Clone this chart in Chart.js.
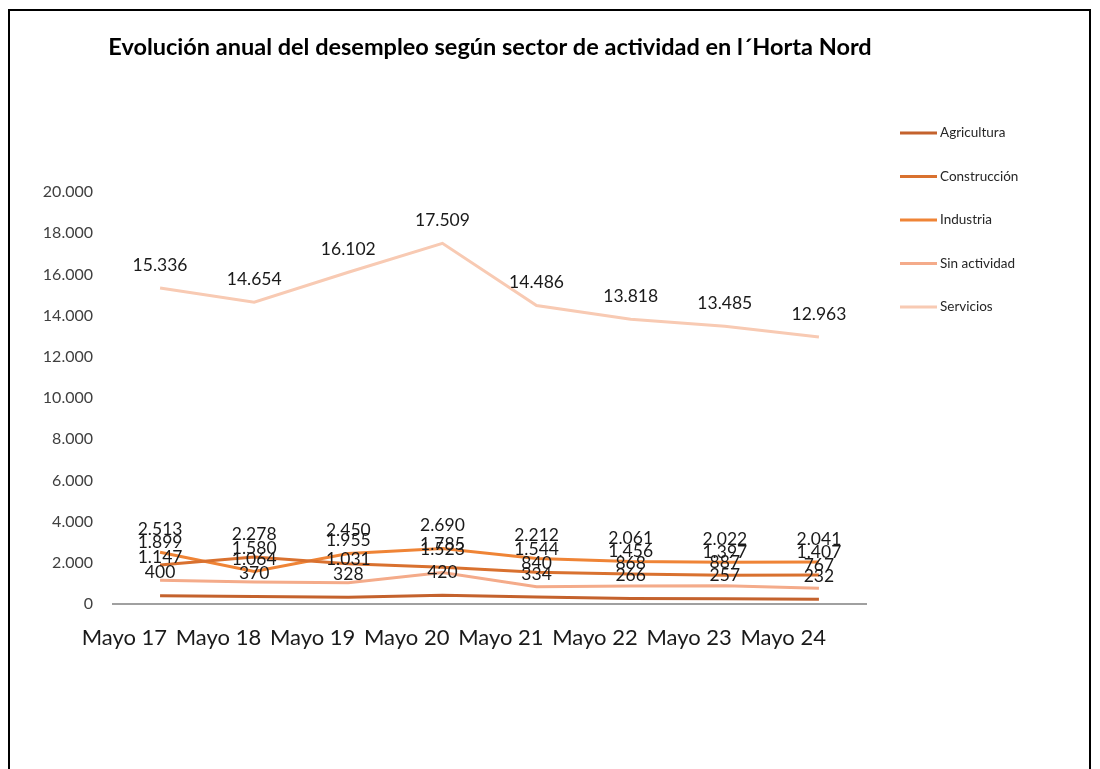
<!DOCTYPE html>
<html>
<head>
<meta charset="utf-8">
<script src="https://cdn.jsdelivr.net/npm/chart.js@4.4.1/dist/chart.umd.min.js"></script>
<style>
  html, body { margin: 0; padding: 0; background: #ffffff; }
  #wrap { position: relative; width: 1100px; height: 769px; }
</style>
</head>
<body>
<div id="wrap"><canvas id="c"></canvas></div>
<script>
const titleText = "Evolución anual del desempleo según sector de actividad en l´Horta Nord";
const categories = ["Mayo 17", "Mayo 18", "Mayo 19", "Mayo 20", "Mayo 21", "Mayo 22", "Mayo 23", "Mayo 24"];
const seriesNames = ["Agricultura", "Construcción", "Industria", "Sin actividad", "Servicios"];
const agricultura = [400, 370, 328, 420, 334, 266, 257, 232];
const construccion = [1899, 2278, 1955, 1785, 1544, 1456, 1397, 1407];
const industria = [2513, 1580, 2450, 2690, 2212, 2061, 2022, 2041];
const sinActividad = [1147, 1064, 1031, 1523, 840, 868, 887, 767];
const servicios = [15336, 14654, 16102, 17509, 14486, 13818, 13485, 12963];
const seriesColors = ["#c4622d", "#d9712f", "#ef8436", "#f4ab8a", "#f8cab3"];
const yMin = 0, yMax = 20000, yStep = 2000;

function fmt(v) {
  return String(Math.round(v)).replace(/\B(?=(\d{3})+(?!\d))/g, ".");
}

const seriesValues = [agricultura, construccion, industria, sinActividad, servicios];
const datasets = seriesNames.map((name, i) => ({
  label: name,
  data: seriesValues[i],
  borderColor: seriesColors[i],
  backgroundColor: seriesColors[i],
  borderWidth: 3,
  pointRadius: 0,
  pointHoverRadius: 0,
  tension: 0,
  fill: false
}));

const decorPlugin = {
  id: "decor",
  afterDatasetsDraw(chart) {
    const ctx = chart.ctx;
    ctx.save();
    ctx.font = "17.5px Lato";
    ctx.fillStyle = "#1a1a1a";
    ctx.textAlign = "center";
    ctx.textBaseline = "middle";
    chart.data.datasets.forEach((ds, i) => {
      const meta = chart.getDatasetMeta(i);
      meta.data.forEach((pt, j) => {
        ctx.fillText(fmt(ds.data[j]), pt.x, pt.y - 23);
      });
    });
    ctx.restore();
  },
  afterDraw(chart) {
    const ctx = chart.ctx;
    ctx.save();
    ctx.strokeStyle = "#000000";
    ctx.lineWidth = 2;
    ctx.strokeRect(9, 10, 1081, 800);
    ctx.fillStyle = "#000000";
    ctx.font = "bold 23.5px Lato";
    ctx.textAlign = "center";
    ctx.textBaseline = "middle";
    ctx.fillText(titleText, 490, 47);
    ctx.font = "13.5px Lato";
    ctx.textAlign = "left";
    chart.data.datasets.forEach((ds, i) => {
      const y = 133 + i * 43.5;
      ctx.strokeStyle = ds.borderColor;
      ctx.lineWidth = 3;
      ctx.beginPath();
      ctx.moveTo(900, y);
      ctx.lineTo(937, y);
      ctx.stroke();
      ctx.fillStyle = "#262626";
      ctx.fillText(ds.label, 940, y);
    });
    ctx.restore();
  }
};

new Chart(document.getElementById("c"), {
  type: "line",
  data: { labels: categories, datasets: datasets },
  options: {
    responsive: true,
    maintainAspectRatio: false,
    animation: false,
    layout: { padding: { top: 192, right: 234, bottom: 0, left: 0 } },
    plugins: {
      legend: { display: false },
      title: { display: false },
      tooltip: { enabled: false }
    },
    scales: {
      x: {
        offset: true,
        grid: { display: false, drawTicks: false },
        border: { display: true, color: "#a0a0a0", width: 2 },
        ticks: {
          align: "end",
          labelOffset: 7,
          padding: 21,
          color: "#1a1a1a",
          font: { family: "Lato", size: 22 },
          maxRotation: 0,
          autoSkip: false
        },
        afterFit(axis) { axis.height = 165; }
      },
      y: {
        min: yMin,
        max: yMax,
        grid: { display: false, drawTicks: false },
        border: { display: false },
        ticks: {
          stepSize: yStep,
          padding: 20,
          color: "#404040",
          font: { family: "Lato", size: 16 },
          callback: (v) => fmt(v)
        },
        afterFit(axis) { axis.width = 113; }
      }
    }
  },
  plugins: [decorPlugin]
});
</script>
</body>
</html>
